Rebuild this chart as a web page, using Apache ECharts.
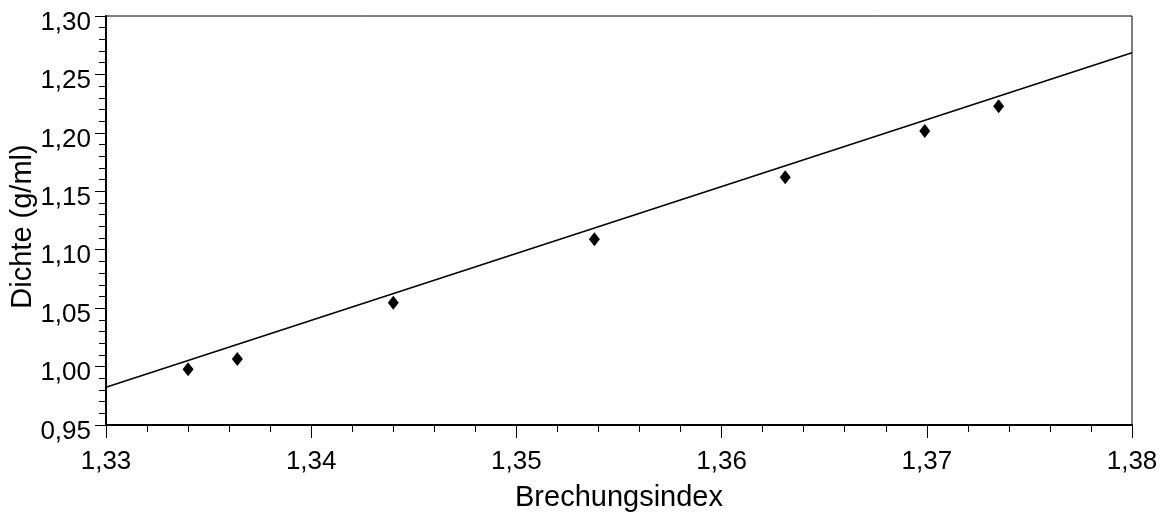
<!DOCTYPE html>
<html>
<head>
<meta charset="utf-8">
<script src="https://cdn.jsdelivr.net/npm/echarts@6/dist/echarts.min.js"></script>
<style>
  html, body { margin: 0; padding: 0; background: #fff; }
  #chart { width: 1162px; height: 515px; }
</style>
</head>
<body>
<div id="chart"></div>
<script>
// Messwerte
const brechungsindex = [1.3340, 1.3364, 1.3440, 1.3538, 1.3631, 1.3699, 1.3735];
const dichte = [0.9977, 1.0065, 1.0547, 1.1089, 1.1620, 1.2016, 1.2227];
// Ausgleichsgerade (Endpunkte am Rand)
const fitX = [1.33, 1.38];
const fitY = [0.9823, 1.2686];

const komma = (v) => v.toFixed(2).replace(".", ",");

const chart = echarts.init(document.getElementById("chart"));
const font = "Liberation Sans, Arial, sans-serif";

const option = {
  animation: false,
  grid: {
    left: 106,
    right: 30,
    top: 16,
    bottom: 90,
    containLabel: false,
    outerBoundsMode: "none",
    show: true,
    borderColor: "#000",
    borderWidth: 1,
  },
  xAxis: {
    type: "value",
    min: 1.33,
    max: 1.38,
    interval: 0.01,
    name: "Brechungsindex",
    nameLocation: "middle",
    nameGap: 58,
    nameMoveOverlap: false,
    nameTextStyle: { color: "#000", fontSize: 29, fontFamily: font },
    axisLine: { show: true, lineStyle: { color: "#000", width: 2 } },
    axisTick: { show: true, length: 13, lineStyle: { color: "#000", width: 1 } },
    minorTick: { show: true, splitNumber: 5, length: 7, lineStyle: { color: "#000", width: 1 } },
    splitLine: { show: false },
    axisLabel: {
      color: "#000",
      fontSize: 26,
      fontFamily: font,
      margin: 24,
      formatter: komma,
    },
  },
  yAxis: {
    type: "value",
    min: 0.95,
    max: 1.3,
    interval: 0.05,
    name: "Dichte (g/ml)",
    nameLocation: "middle",
    nameGap: 69,
    nameMoveOverlap: false,
    nameTextStyle: { color: "#000", fontSize: 29, fontFamily: font, padding: [0, 12, 0, 0] },
    axisLine: { show: true, lineStyle: { color: "#000", width: 2 } },
    axisTick: { show: true, length: 11, lineStyle: { color: "#000", width: 1 } },
    minorTick: { show: true, splitNumber: 5, length: 7, lineStyle: { color: "#000", width: 1 } },
    splitLine: { show: false },
    axisLabel: {
      color: "#000",
      margin: 15,
      formatter: (v) => "{t|" + komma(v) + "}",
      rich: {
        t: { color: "#000", fontSize: 26, fontFamily: font, padding: [13, 0, 0, 0] },
      },
    },
  },
  series: [
    {
      name: "Ausgleichsgerade",
      type: "line",
      data: fitX.map((x, i) => [x, fitY[i]]),
      showSymbol: false,
      lineStyle: { color: "#000", width: 1.5 },
      silent: true,
    },
    {
      name: "Messwerte",
      type: "scatter",
      data: brechungsindex.map((x, i) => [x, dichte[i]]),
      symbol: "diamond",
      symbolSize: [11, 14],
      itemStyle: { color: "#000", opacity: 1 },
    },
  ],
};
chart.setOption(option);
</script>
</body>
</html>
